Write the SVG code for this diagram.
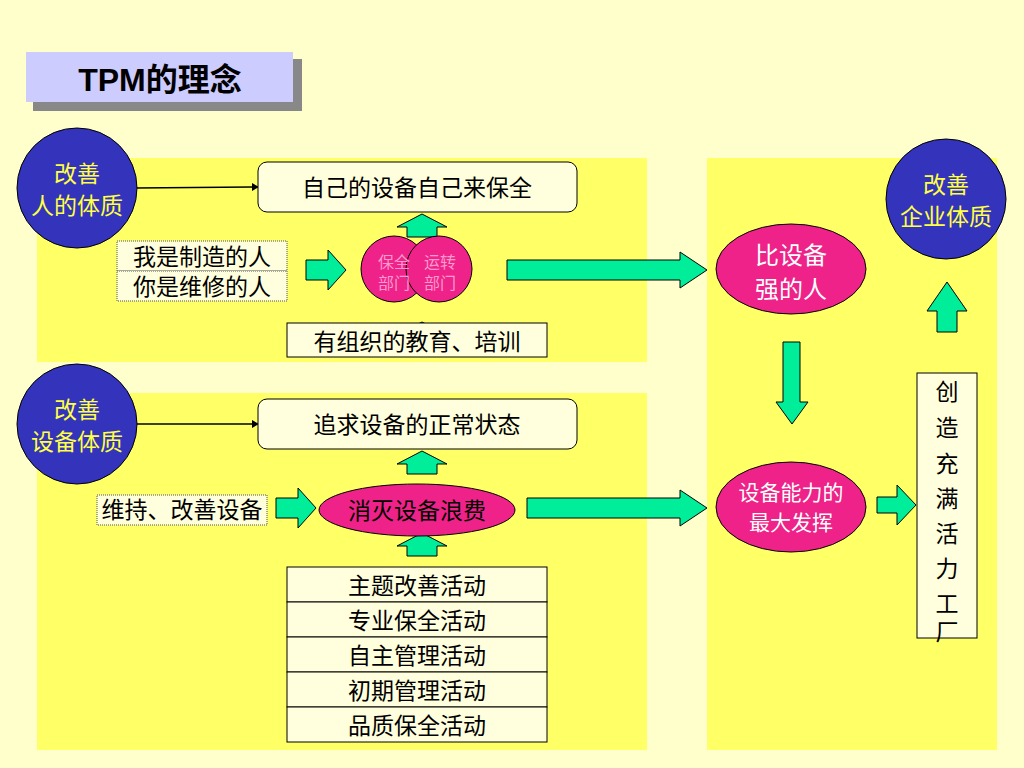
<svg xmlns="http://www.w3.org/2000/svg" width="1024" height="768" viewBox="0 0 1024 768">
<style>
text{font-family:"Liberation Sans","Noto Sans CJK SC",sans-serif}
.ar{fill:#00EE99;stroke:#000;stroke-width:1}
.pk{fill:#EE2288;stroke:#000;stroke-width:1}
.bl{fill:#3333BB;stroke:#000;stroke-width:1}
.bx{fill:#FFFFDD;stroke:#000;stroke-width:1}
.yt{fill:#FFFF44;font-size:23px;text-anchor:middle}
.wt{fill:#FFFFFF;text-anchor:middle}
.kt{fill:#000;font-size:23px;text-anchor:middle}
</style>
<rect width="1024" height="768" fill="#FFFFCC"/>
<rect x="37" y="158" width="610" height="204" fill="#FFFF66"/>
<rect x="37" y="393" width="610" height="357" fill="#FFFF66"/>
<rect x="707" y="158" width="290" height="592" fill="#FFFF66"/>
<g id="title">
<rect x="33" y="59" width="269" height="52" fill="#888"/>
<rect x="26" y="52" width="267" height="50" fill="#CCCCFF"/>
<text x="160" y="91" font-size="32" font-weight="bold" text-anchor="middle" fill="#000">TPM的理念</text>
</g>
<g id="connectors">
<line x1="135" y1="188" x2="252" y2="187" stroke="#000" stroke-width="1.5"/>
<polygon points="252,183 259,187 252,191"/>
<line x1="135" y1="424" x2="252" y2="424" stroke="#000" stroke-width="1.5"/>
<polygon points="252,420 259,424 252,428"/>
<polygon class="ar" points="407,237 407,227 397,227 422,214 447,227 437,227 437,237"/>
<polygon class="ar" points="407,345 407,335 397,335 422,322 447,335 437,335 437,345"/>
<polygon class="ar" points="407,474 407,464 397,464 422,451 447,464 437,464 437,474"/>
<polygon class="ar" points="407,556 407,546 397,546 422,533 447,546 437,546 437,556"/>
<polygon class="ar" points="306,260 328,260 328,250 346,270 328,290 328,280 306,280"/>
<polygon class="ar" points="276,498 298,498 298,488 316,508 298,528 298,518 276,518"/>
<polygon class="ar" points="507,260 680,260 680,252 707,270 680,288 680,280 507,280"/>
<polygon class="ar" points="527,498 680,498 680,490 707,508 680,526 680,518 527,518"/>
<polygon class="ar" points="783,342 800,342 800,402 808,402 792,424 776,402 783,402"/>
<polygon class="ar" points="877,497 897,497 897,485 916,505 897,525 897,513 877,513"/>
<polygon class="ar" points="937,332 937,311 927,311 947,282 967,311 957,311 957,332"/>
</g>
<g id="c1"><circle cx="77" cy="188" r="60" class="bl"/><text x="77" y="182" class="yt">改善</text><text x="77" y="214" class="yt">人的体质</text></g>
<g id="c2"><circle cx="77" cy="424" r="60" class="bl"/><text x="77" y="418" class="yt">改善</text><text x="77" y="450" class="yt">设备体质</text></g>
<g id="c3"><circle cx="946" cy="199" r="60" class="bl"/><text x="946" y="193" class="yt">改善</text><text x="946" y="225" class="yt">企业体质</text></g>
<g id="n1"><rect x="258" y="162" width="319" height="50" rx="9" class="bx"/><text x="417" y="196" class="kt" font-size="24">自己的设备自己来保全</text></g>
<g id="n2"><rect x="258" y="399" width="319" height="50" rx="9" class="bx"/><text x="417" y="433" class="kt" font-size="24">追求设备的正常状态</text></g>
<g id="n3"><rect x="117" y="241" width="170" height="30" fill="#FFFFDD" stroke="#555" stroke-dasharray="1,1"/><rect x="117" y="271" width="170" height="30" fill="#FFFFDD" stroke="#555" stroke-dasharray="1,1"/>
<text x="202" y="265" class="kt" font-size="21">我是制造的人</text><text x="202" y="295" class="kt" font-size="21">你是维修的人</text></g>
<g id="n4"><circle cx="394" cy="269" r="33" class="pk"/><circle cx="439" cy="269" r="33" class="pk"/>
<text x="394" y="268" font-size="16" fill="#FF99CC" text-anchor="middle">保全</text><text x="394" y="289" font-size="16" fill="#FF99CC" text-anchor="middle">部门</text>
<text x="440" y="268" font-size="16" fill="#FF99CC" text-anchor="middle">运转</text><text x="440" y="289" font-size="16" fill="#FF99CC" text-anchor="middle">部门</text></g>
<g id="n5"><rect x="287" y="323" width="260" height="34" fill="#FFFFDD" stroke="#000"/><text x="417" y="350" class="kt" font-size="24">有组织的教育、培训</text></g>
<g id="n6"><rect x="97" y="495" width="170" height="30" fill="#FFFFDD" stroke="#555" stroke-dasharray="1,1"/><text x="182" y="518" class="kt" font-size="21">维持、改善设备</text></g>
<g id="n7"><ellipse cx="417" cy="510" rx="98" ry="26" class="pk"/><text x="417" y="519" class="kt" font-size="24">消灭设备浪费</text></g>
<g id="n8">
<rect x="287" y="567" width="260" height="35" class="bx"/><rect x="287" y="602" width="260" height="35" class="bx"/><rect x="287" y="637" width="260" height="35" class="bx"/><rect x="287" y="672" width="260" height="35" class="bx"/><rect x="287" y="707" width="260" height="35" class="bx"/>
<text x="417" y="594" class="kt" font-size="24">主题改善活动</text><text x="417" y="629" class="kt" font-size="24">专业保全活动</text><text x="417" y="664" class="kt" font-size="24">自主管理活动</text><text x="417" y="699" class="kt" font-size="24">初期管理活动</text><text x="417" y="734" class="kt" font-size="24">品质保全活动</text></g>
<g id="n9"><ellipse cx="791" cy="269" rx="75" ry="45" class="pk"/><text x="791" y="264" class="wt" font-size="24">比设备</text><text x="791" y="298" class="wt" font-size="24">强的人</text></g>
<g id="n10"><ellipse cx="791" cy="507" rx="75" ry="45" class="pk"/><text x="791" y="500" class="wt" font-size="21">设备能力的</text><text x="791" y="530" class="wt" font-size="21">最大发挥</text></g>
<g id="n11"><rect x="917" y="373" width="60" height="265" class="bx"/>
<text class="kt" font-size="26" x="947"><tspan x="947" y="400">创</tspan><tspan x="947" y="436">造</tspan><tspan x="947" y="472">充</tspan><tspan x="947" y="507">满</tspan><tspan x="947" y="542">活</tspan><tspan x="947" y="577">力</tspan><tspan x="947" y="612">工</tspan><tspan x="947" y="640">厂</tspan></text></g>
</svg>
